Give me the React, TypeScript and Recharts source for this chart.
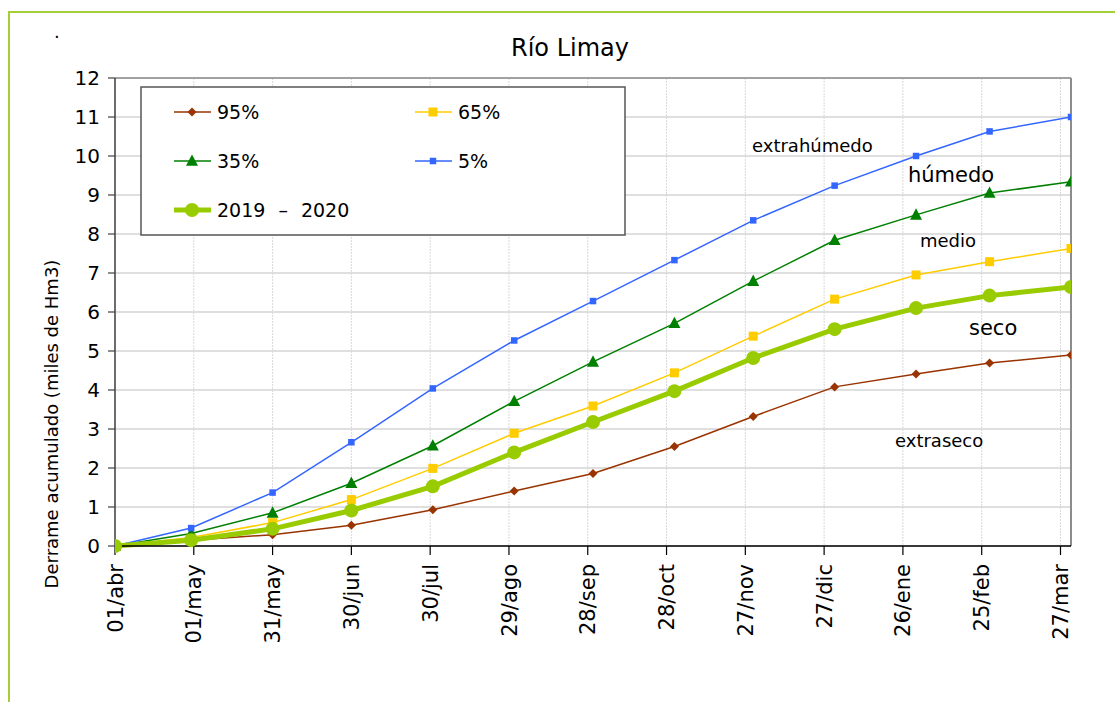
import React from "react";
import {
  LineChart,
  Line,
  XAxis,
  YAxis,
  CartesianGrid,
  ReferenceLine,
} from "recharts";

const FONT = "'DejaVu Sans', Verdana, sans-serif";

// Day offsets from 01/abr (points at month ends)
const days = [0, 29, 60, 90, 121, 152, 182, 213, 243, 274, 305, 333, 364];
const p95 = [0, 0.15, 0.29, 0.53, 0.93, 1.41, 1.86, 2.55, 3.32, 4.08, 4.41, 4.69, 4.9];
const p65 = [0, 0.22, 0.6, 1.19, 1.99, 2.89, 3.59, 4.44, 5.38, 6.33, 6.95, 7.29, 7.63];
const p35 = [0, 0.32, 0.85, 1.61, 2.57, 3.71, 4.72, 5.71, 6.79, 7.84, 8.49, 9.05, 9.34];
const p5 = [0, 0.46, 1.37, 2.66, 4.04, 5.27, 6.28, 7.33, 8.35, 9.24, 10.0, 10.63, 11.0];
const y2019 = [0, 0.15, 0.44, 0.91, 1.53, 2.4, 3.18, 3.97, 4.82, 5.56, 6.1, 6.42, 6.64];

const xTickDays = [0, 30, 60, 90, 120, 150, 180, 210, 240, 270, 300, 330, 360];
const xTickLabels = [
  "01/abr", "01/may", "31/may", "30/jun", "30/jul", "29/ago", "28/sep",
  "28/oct", "27/nov", "27/dic", "26/ene", "25/feb", "27/mar",
];
const yTicks = [0, 1, 2, 3, 4, 5, 6, 7, 8, 9, 10, 11, 12];

const data = days.map((d, i) => ({
  day: d,
  p95: p95[i],
  p65: p65[i],
  p35: p35[i],
  p5: p5[i],
  y2019: y2019[i],
}));

const C95 = "#993300";
const C65 = "#FFCC00";
const C35 = "#008000";
const C5 = "#3366FF";
const C19 = "#99CC00";

const Diamond = ({ cx, cy, color, s = 4.5 }: any) => (
  <path d={`M${cx},${cy - s}L${cx + s},${cy}L${cx},${cy + s}L${cx - s},${cy}Z`} fill={color} />
);
const Square = ({ cx, cy, color, s }: any) => (
  <rect x={cx - s / 2} y={cy - s / 2} width={s} height={s} fill={color} />
);
const Triangle = ({ cx, cy, color, s = 12 }: any) => (
  <path
    d={`M${cx},${cy - s * 0.55}L${cx + s / 2},${cy + s * 0.4}L${cx - s / 2},${cy + s * 0.4}Z`}
    fill={color}
  />
);
const Circle = ({ cx, cy, color, r = 7 }: any) => <circle cx={cx} cy={cy} r={r} fill={color} />;

const dotDiamond = (p: any) => <Diamond key={`d95-${p.index}`} cx={p.cx} cy={p.cy} color={C95} />;
const dotSq65 = (p: any) => <Square key={`d65-${p.index}`} cx={p.cx} cy={p.cy} color={C65} s={9} />;
const dotTri = (p: any) => <Triangle key={`d35-${p.index}`} cx={p.cx} cy={p.cy} color={C35} />;
const dotSq5 = (p: any) => <Square key={`d5-${p.index}`} cx={p.cx} cy={p.cy} color={C5} s={6.5} />;
const dotCirc = (p: any) => <Circle key={`d19-${p.index}`} cx={p.cx} cy={p.cy} color={C19} />;

const XTick = ({ x, y, payload }: any) => {
  const idx = xTickDays.indexOf(payload.value);
  return (
    <text
      x={x}
      y={y}
      transform={`rotate(-90 ${x} ${y})`}
      textAnchor="end"
      dy="0.36em"
      fontSize={21}
      fontFamily={FONT}
      fill="#000"
    >
      {idx >= 0 ? xTickLabels[idx] : ""}
    </text>
  );
};

const legendItems = [
  { label: "95%", color: C95, x: 174, y: 112, kind: "diamond" },
  { label: "65%", color: C65, x: 415, y: 112, kind: "sq65" },
  { label: "35%", color: C35, x: 174, y: 161, kind: "tri" },
  { label: "5%", color: C5, x: 415, y: 161, kind: "sq5" },
  { label: "2019 – 2020", color: C19, x: 174, y: 210, kind: "circ" },
];

const annotations = [
  { text: "extrahúmedo", x: 752, y: 152, size: 18 },
  { text: "húmedo", x: 908, y: 182, size: 21 },
  { text: "medio", x: 920, y: 247, size: 18 },
  { text: "seco", x: 969, y: 335, size: 21 },
  { text: "extraseco", x: 895, y: 447, size: 18 },
];

export default function App() {
  return (
    <div
      style={{
        position: "absolute",
        left: 0,
        top: 0,
        width: 1115,
        height: 702,
        overflow: "hidden",
        background: "#fff",
        fontFamily: FONT,
      }}
    >
      <div
        style={{
          position: "absolute",
          left: 8,
          top: 11,
          width: 1300,
          height: 900,
          borderTop: "2px solid #A3CF3A",
          borderLeft: "2px solid #A3CF3A",
        }}
      />
      <div style={{ position: "absolute", left: 0, top: 0 }}>
        <LineChart
          width={1115}
          height={702}
          data={data}
          margin={{ top: 78, right: 44, bottom: 0, left: 0 }}
        >
          <CartesianGrid horizontal={true} vertical={false} stroke="#c0c0c0" strokeWidth={1.2} />
          <CartesianGrid horizontal={false} vertical={true} stroke="#d9d9d9" strokeDasharray="2 1" />
          <XAxis
            dataKey="day"
            type="number"
            domain={[0, 364]}
            ticks={xTickDays}
            interval={0}
            allowDataOverflow
            height={156}
            tick={<XTick />}
            tickSize={9}
            tickMargin={9}
            axisLine={{ stroke: "#000", strokeWidth: 1.5 }}
            tickLine={{ stroke: "#000", strokeWidth: 1.2 }}
          />
          <YAxis
            type="number"
            domain={[0, 12]}
            ticks={yTicks}
            interval={0}
            width={115}
            tickSize={7}
            tickMargin={8}
            tick={{ fontSize: 20, fill: "#000", fontFamily: FONT }}
            axisLine={{ stroke: "#404040", strokeWidth: 1.5 }}
            tickLine={{ stroke: "#404040", strokeWidth: 1.2 }}
          />
          <ReferenceLine y={12} stroke="#8c8c8c" strokeWidth={1.5} />
          <ReferenceLine x={364} stroke="#8c8c8c" strokeWidth={2} />
          <Line dataKey="p95" stroke={C95} strokeWidth={1.5} dot={dotDiamond} activeDot={false} isAnimationActive={false} />
          <Line dataKey="p65" stroke={C65} strokeWidth={1.5} dot={dotSq65} activeDot={false} isAnimationActive={false} />
          <Line dataKey="p35" stroke={C35} strokeWidth={1.5} dot={dotTri} activeDot={false} isAnimationActive={false} />
          <Line dataKey="p5" stroke={C5} strokeWidth={1.5} dot={dotSq5} activeDot={false} isAnimationActive={false} />
          <Line dataKey="y2019" stroke={C19} strokeWidth={5} dot={dotCirc} activeDot={false} isAnimationActive={false} />
        </LineChart>
      </div>
      <svg
        width={1115}
        height={702}
        style={{ position: "absolute", left: 0, top: 0, pointerEvents: "none" }}
      >
        <text x={54} y={38} fontSize={18} fontFamily={FONT} fill="#000">.</text>
        <text x={570} y={56} textAnchor="middle" fontSize={24} fontFamily={FONT} fill="#000">
          Río Limay
        </text>
        <text
          x={58}
          y={424}
          transform="rotate(-90 58 424)"
          textAnchor="middle"
          fontSize={18}
          fontFamily={FONT}
          fill="#000"
        >
          Derrame acumulado (miles de Hm3)
        </text>
        <rect x={141} y={87} width={484} height={148} fill="#fff" stroke="#555" strokeWidth={1.5} />
        {legendItems.map((it) => {
          const cx = it.x + 18;
          return (
            <g key={it.label}>
              <line
                x1={it.x}
                x2={it.x + 37}
                y1={it.y}
                y2={it.y}
                stroke={it.color}
                strokeWidth={it.kind === "circ" ? 5 : 1.5}
              />
              {it.kind === "diamond" && <Diamond cx={cx} cy={it.y} color={it.color} />}
              {it.kind === "sq65" && <Square cx={cx} cy={it.y} color={it.color} s={9} />}
              {it.kind === "tri" && <Triangle cx={cx} cy={it.y} color={it.color} />}
              {it.kind === "sq5" && <Square cx={cx} cy={it.y} color={it.color} s={6.5} />}
              {it.kind === "circ" && <Circle cx={cx} cy={it.y} color={it.color} />}
              <text
                x={it.x + 43}
                y={it.y}
                dy="0.36em"
                fontSize={19}
                wordSpacing={it.kind === "circ" ? 7 : 0}
                fontFamily={FONT}
                fill="#000"
              >
                {it.label}
              </text>
            </g>
          );
        })}
        {annotations.map((a) => (
          <text key={a.text} x={a.x} y={a.y} fontSize={a.size} fontFamily={FONT} fill="#000">
            {a.text}
          </text>
        ))}
      </svg>
    </div>
  );
}
